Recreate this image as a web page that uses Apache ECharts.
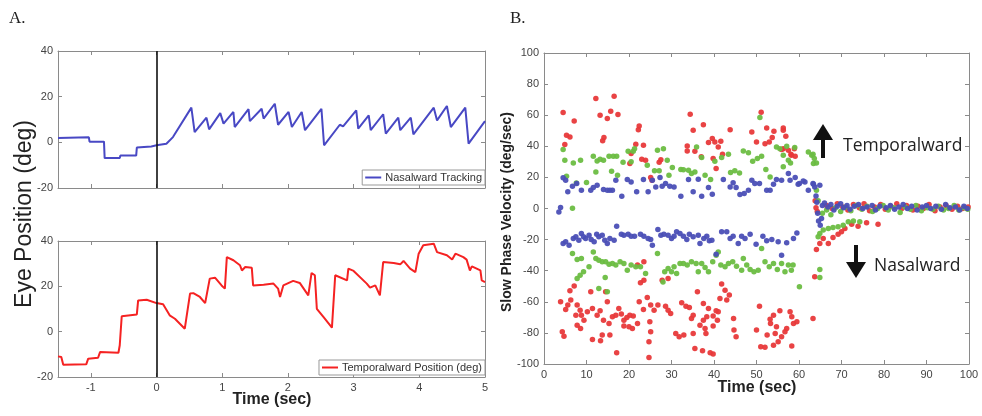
<!DOCTYPE html>
<html><head><meta charset="utf-8">
<script src="https://cdn.jsdelivr.net/npm/echarts@6/dist/echarts.min.js"></script>
<style>html,body{margin:0;padding:0;background:#fff}#c{width:982px;height:416px}</style>
</head><body><div id="c"></div>
<script>
// ---------- Panel A data (time sec, position deg) ----------
const nasalTrack = [[-1.5,1.9],[-1.03,2.2],[-1.02,0.3],[-0.8,0.3],[-0.79,-6.9],[-0.56,-6.9],[-0.55,-5.8],[-0.31,-5.8],[-0.3,-2.3],[-0.08,-1.8],[0,-1.3],[0.15,-0.6],[0.25,2.3],[0.53,15.2],[0.58,4.5],[0.76,10.8],[0.8,5.7],[0.97,12.8],[1.02,8.2],[1.17,13.3],[1.19,6.7],[1.4,14.5],[1.42,9.3],[1.6,14.7],[1.63,10.4],[1.8,16.9],[1.85,7.7],[2.01,13.3],[2.06,6.7],[2.21,13.3],[2.26,5.3],[2.51,14.7],[2.55,-1.3],[2.79,7.7],[2.84,7.0],[3.04,14],[3.07,6],[3.23,11.8],[3.26,5.3],[3.45,12.3],[3.49,3.8],[3.68,10.8],[3.71,5.3],[3.87,10.8],[3.91,3.5],[4.22,15.2],[4.27,9.6],[4.42,15.9],[4.48,6.7],[4.7,15.2],[4.75,-0.6],[5,9.3]];
const temporalPos = [[-1.5,-10.9],[-1.45,-11.2],[-1.42,-14.6],[-1.07,-14.4],[-1.04,-11.9],[-0.89,-11.5],[-0.86,-9],[-0.58,-9.3],[-0.56,-6],[-0.53,6.8],[-0.3,7.6],[-0.28,13.8],[-0.15,14.1],[0,12.6],[0.1,12.1],[0.2,7.2],[0.28,5.7],[0.43,1.3],[0.51,16.8],[0.56,17],[0.66,15.3],[0.74,12.6],[0.81,23.4],[0.89,23.8],[0.99,20.4],[1.04,19],[1.07,32.9],[1.17,31.5],[1.27,29.3],[1.3,27],[1.35,28.5],[1.45,28.2],[1.47,20.4],[1.63,20.7],[1.78,21.2],[1.85,19],[1.88,15.3],[1.93,20.4],[2.08,22.4],[2.18,21.5],[2.31,16],[2.36,25.9],[2.41,24.9],[2.44,10.1],[2.54,6.5],[2.67,1.8],[2.72,24.9],[2.9,22.6],[2.92,27.8],[3.0,26.8],[3.2,21.2],[3.25,19.4],[3.33,20.4],[3.4,16],[3.45,30.7],[3.61,30.3],[3.71,29.7],[3.76,31.2],[3.86,27.8],[3.94,26.3],[3.99,34.4],[4.06,38.1],[4.22,38.8],[4.27,35.1],[4.42,33.7],[4.5,31.8],[4.55,34.4],[4.67,32.9],[4.72,31.8],[4.77,27],[4.8,28.8],[4.93,27],[4.95,22.6],[5.0,21.9]];
const panelATicksX = [-1,0,1,2,3,4,5];

// ---------- Panel B data (time sec, slow phase velocity deg/sec) ----------
const redUp = [[4.5,61.7],[4.9,41.1],[5.3,47.1],[6.1,46],[7.1,56.3],[12.2,70.7],[13.2,60],[13.8,43.5],[14.1,45.6],[14.9,57.8],[15.7,62.5],[16.5,72.2],[17.4,60.4],[20.2,28.9],[20.5,35.3],[21.6,41.3],[22.2,50.7],[22.4,53.1],[23,31.7],[23.4,40.7],[23.9,31],[25.1,19.9],[25.4,18.2],[27.1,29.8],[27.5,31.4],[33.7,40.2],[33.7,37],[34.4,60.6],[35.1,50.3],[35.5,36.8],[37,33.2],[37.5,53.9],[38.7,42.4],[39.6,45],[39.8,32.1],[40.2,42.8],[40.5,25.7],[41,39.6],[41.6,43.2],[42,34.9],[43.8,50.7],[48.9,49.2],[50,42.8],[51.1,61.9],[52,41.7],[52.4,51.8],[53,42.8],[53.7,45.6],[54.1,49.7],[55.9,37.9],[56.3,51.8],[56.3,50.3],[56.9,46.5],[57.5,37.5],[58.1,34.9],[58.9,38.5],[59.1,33.6],[56.3,38.5],[58.2,34.3]];
const greenUp = [[4.5,37.9],[4.9,31],[5.3,20.8],[6.7,0.1],[6.9,29.3],[7.6,16.4],[8.6,31],[10,16.7],[11.6,33.6],[12.2,23.5],[12.5,30.6],[13.2,31.7],[14,31],[15.3,33.6],[15.9,24],[16.3,33.6],[17.1,33.6],[17.3,21.4],[18.6,29.7],[19.8,36.8],[20.5,30],[21,36.8],[21.3,38.5],[24.3,27.8],[26,24.2],[26.7,37.5],[27.1,24.2],[28.1,38.5],[29,31],[29.4,21.4],[30.2,26.3],[32.2,25.1],[32.8,25],[34,24.6],[34.7,22.5],[35.5,23.5],[35.9,39.6],[37.1,32.8],[37.9,21.4],[39.2,18.6],[40.2,30.4],[41.8,32.8],[43.4,34.9],[43.9,23.1],[44.9,24.2],[46,22.9],[46.9,37],[48.1,35.8],[49.1,30.4],[50.2,32.1],[50.8,58.5],[51.2,33.6],[52.2,25.1],[53.2,20.3],[54.7,39.6],[55.5,38.5],[56.3,34.2],[57.1,40],[57.5,31],[58,29.3],[59,39.2],[56.3,26.8],[62.2,36.4],[63,34.2],[63.3,34.9],[63.6,32.1],[63.4,28.9],[64.1,29.3],[64.1,11.8]];
const blueUp = [[3.5,-2.2],[3.9,0.6],[4.5,19.7],[5.1,18.2],[5.6,10.7],[6.7,14.3],[7.7,16],[8.8,11.8],[11,11.8],[11.6,13.5],[12.5,15],[14,12.2],[14.9,11.8],[15.5,11.8],[16.1,11.8],[16.9,18.2],[18.3,7.9],[19.6,18.6],[20.5,17.1],[21.8,10.7],[23.4,18.6],[24.5,10.7],[25.5,18.2],[26.3,13.9],[27.3,19.9],[27.8,14.3],[28.6,16],[29.6,14.3],[30.6,13.9],[32.2,7.9],[34,18.6],[35.1,10.7],[36.3,18.8],[37.1,7.9],[38.7,13.5],[39.6,9.2],[42.2,18.6],[43.8,13.9],[44.5,16.5],[45.2,13.5],[46.1,9],[47.1,9.6],[48.1,11.8],[48.9,18.2],[49.6,16],[50.7,16],[52.4,11.8],[53.2,11.8],[54,15.6],[54.7,18.6],[55.9,18.2],[57.5,22.5],[57.9,18.2],[59.1,19.9],[59.8,15.6],[60.1,16],[61,17.7],[61.4,17.1],[62.2,11.8],[63.3,16],[63.4,15.6],[63.7,13.9],[64.9,15]];
const redAfter = [[63.8,5],[64,0.5],[64.3,-2],[64.1,-26.4],[64.9,-22.5],[65.7,-19.3],[66.9,-22.5],[68,-18.7],[69.2,-16.5],[70,-15],[70.8,-12.9],[72.4,-10.1],[73.9,-11.4],[75.9,-9.2],[78.6,-10.1],[63.7,-43.9],[63.3,-70.7],[66.5,2],[67.8,0],[69,3],[70.3,1],[71.5,-1],[72.8,2.5],[74.2,0.5],[75.3,3],[76.6,-1.5],[77.8,1],[79.2,2.5],[80.3,-0.5],[81.6,1.5],[83,3],[84.2,0],[85.3,2],[86.8,-1],[88,1.5],[89.3,0],[90.6,2.5],[92,-1.5],[93.2,1],[94.6,2],[96,-0.5],[97.3,1.5],[98.5,0],[99.8,1]];
const greenAfter = [[64.5,5],[64.9,-16.1],[64.5,-18.2],[65.7,-13.9],[66.9,-12.9],[68,-12.2],[69.2,-11.8],[70.4,-10.7],[71.6,-8.6],[72.8,-8],[74.3,-8.6],[64.9,-39.2],[64.9,-44.4],[65.5,-3],[66.5,-1],[67.5,-4],[68.6,0.5],[69.8,-2],[71,1],[72.2,-1.5],[73.5,2],[74.8,-0.5],[76,1.5],[77.3,-2],[78.5,0],[79.8,2],[81,-1],[82.3,0.5],[83.8,-2.5],[85,1],[86.2,-0.5],[87.5,2],[88.8,-1.5],[90.2,0.5],[91.5,-0.5],[92.8,1.5],[94,-1],[95.2,0],[96.5,2],[97.6,-1],[98.8,0.5],[99.7,-0.5]];
const blueAfter = [[64,8],[64.2,4],[64.4,-3],[64.6,-8],[65,-10.7],[65.3,-6.4],[65.5,2],[66,3.5],[66.8,1],[67.5,2.5],[68.2,-1],[69,1.5],[69.8,3],[70.5,0.5],[71.3,2],[72,-0.5],[73,1.5],[74,2.5],[75,0],[76,1],[77.2,2],[78,-1],[79,1.5],[80.5,0.5],[81.5,2],[82.5,-0.5],[83.5,1],[84.5,2.5],[85.5,0],[86.5,1.5],[87.8,-1],[89,1],[90,2],[91,0],[92.2,1.5],[93.5,-0.5],[94.5,2.5],[95.5,0.5],[96.8,1],[97.8,-1],[98.8,1.5],[99.6,0]];
const blueDown = [[4.5,-22.5],[5.1,-21.4],[5.9,-23.6],[6.9,-19.3],[7.5,-18.2],[8.2,-20.4],[8.8,-16.1],[9.3,-18.2],[9.8,-19.3],[10.6,-17.2],[11.1,-19.9],[11.8,-21.4],[12.4,-16.5],[12.9,-18.2],[13.7,-17.2],[14.3,-20.4],[14.9,-22.5],[15.5,-19.3],[16.5,-20.4],[17.1,-11.4],[18.2,-16.5],[18.8,-17.2],[19.8,-16.5],[20.5,-17.8],[21.3,-17.8],[22.7,-16.5],[23.5,-17.8],[24.5,-19.3],[25.1,-19.9],[25.5,-23.6],[26.8,-13.5],[27.5,-17.2],[28.2,-16.5],[29.2,-17.2],[30,-19.3],[30.6,-17.8],[31.2,-15],[32,-16.1],[32.8,-17.8],[33.6,-19.9],[34.2,-16.5],[35.1,-18.2],[36.3,-17.2],[36.7,-22.5],[37.6,-19.3],[38.3,-17.8],[38.9,-20.8],[39.5,-20.4],[40.5,-29.4],[41.8,-15],[43,-15],[43.8,-19.3],[44.5,-17.8],[45.7,-22.5],[46.5,-17.8],[47.3,-19.3],[48.5,-16.5],[49.9,-23],[51.5,-17.8],[52.4,-20.8],[53.6,-19.9],[55.1,-21.4],[55.9,-30],[57.1,-22.1],[58.7,-19.3],[59.5,-15.7]];
const greenDown = [[6.7,-28.9],[7.8,-32.8],[8.8,-32.2],[11.6,-27.9],[12.2,-32.2],[12.9,-33.2],[13.7,-34.3],[14.5,-34.3],[15.3,-35.8],[16.1,-35.4],[16.9,-36.4],[17.9,-34.3],[18.8,-35.4],[19.6,-39.7],[20.5,-36.4],[21.6,-37.5],[22.7,-37.5],[23.9,-41.8],[26.7,-28.9],[28,-47.2],[28.4,-40.7],[29.2,-38.6],[30,-40.7],[30.6,-37.5],[31.2,-41.8],[32,-35.4],[7.8,-45],[8.5,-42.9],[9.3,-40.7],[10.6,-37.5],[12.9,-51.4],[14.4,-44.4],[14.9,-53.6],[32.8,-35.4],[33.7,-36.4],[34.7,-34.3],[35.8,-35.4],[36.3,-40.7],[37.1,-35.4],[37.9,-37.9],[38.7,-40.7],[39.7,-34.3],[41,-27.9],[40.5,-30],[41.6,-36.4],[42.6,-37.5],[43.4,-35.4],[44.4,-34.3],[45.3,-37.1],[46.5,-39.7],[46.9,-32.2],[47.7,-36.4],[48.5,-39.2],[49.4,-40.7],[50.4,-39.7],[51.2,-25.7],[52,-34.3],[53,-37.5],[54,-35.4],[54.9,-39.2],[55.9,-35.4],[56.7,-40.7],[57.5,-36.4],[58.2,-39.7],[58.6,-36.4],[60.1,-50.4]];
const redDown = [[23.5,-34.3],[22.7,-47.8],[22,-36.4],[3.9,-60],[5.1,-65],[5.6,-62.1],[6.3,-58.9],[7.1,-49.9],[6.1,-52.9],[7.8,-62.1],[8.5,-65.4],[7.5,-68.6],[8.8,-68.6],[9.4,-71.8],[10.2,-66.4],[11,-53.6],[11.4,-64.3],[12.5,-68.6],[13.2,-65.8],[14,-71.8],[14.5,-53.6],[14.9,-60],[15.3,-73.9],[16.1,-69.6],[16.9,-68.6],[17.6,-64.3],[18.2,-67.9],[18.8,-71.8],[19.5,-70.1],[20.2,-68.6],[21,-69.2],[22,-73.9],[22.4,-60],[23.4,-64.9],[24.3,-57.2],[25.1,-62.1],[25.9,-65.4],[24.9,-72.9],[25.1,-79.3],[24.7,-85.7],[24.7,-95.8],[4.3,-79.3],[4.7,-82.1],[7.8,-75],[8.6,-77.1],[11.4,-84.2],[13.7,-81.4],[15.5,-81.4],[17.1,-92.8],[13.3,-85.1],[26.8,-62.1],[28.6,-62.8],[29.2,-65.4],[29.8,-67.5],[31,-80.4],[31.8,-82.5],[27.8,-46.1],[29.2,-45],[23.5,-46.1],[18.8,-75.6],[20,-76.1],[20.8,-77.1],[41.8,-48.6],[42.6,-52.5],[43.6,-55.7],[43,-58.9],[41.4,-57.9],[36.1,-53.6],[32.4,-60.6],[33.4,-62.8],[34.2,-63.6],[35.1,-68.6],[34.7,-70.7],[32.9,-81.4],[35.1,-80.4],[36.7,-75],[37.5,-71.8],[38.3,-69.6],[38.7,-64.3],[39.8,-69.2],[40.5,-65.8],[41,-66.4],[40.8,-71.8],[39.8,-75.6],[38.1,-80.4],[37.9,-77.1],[35.5,-90],[37.3,-91.5],[39.1,-92.8],[39.8,-93.6],[44.6,-70.7],[44.7,-78.2],[45.2,-82.5],[50,-78.2],[50.7,-62.8],[52.5,-81.4],[53.2,-71.3],[54,-68.6],[55.5,-65.8],[53.3,-73.9],[54.7,-76.1],[54.4,-80.4],[55.1,-85.7],[55.9,-82.5],[56.7,-79.3],[57.1,-77.1],[57.9,-66.4],[58.3,-69.6],[58.7,-73.9],[59.5,-72.9],[51,-88.9],[52,-89.3],[58.3,-88.5],[54,-87.9],[37.5,-61.1]];

const FONT = 'Liberation Sans';
const chart = echarts.init(document.getElementById('c'), null, {renderer:'canvas'});

function boxAxes(gridIndex, min, max, showLabels, intervalOpt, pos) {
  const a = {
    type:'value', gridIndex, min, max, position:pos,
    axisLine:{show:true, onZero:false, lineStyle:{color:'#8a8a8a', width:1}},
    axisTick:{show:true, inside:true, length:4, lineStyle:{color:'#8a8a8a'}},
    splitLine:{show:false},
    axisLabel:{show:showLabels, color:'#444', fontFamily:FONT, fontSize:11, margin:5}
  };
  Object.assign(a, intervalOpt);
  return a;
}

const xA = {minInterval:1, maxInterval:1};
const gridA1 = {left:58, top:51, width:427, height:137};
const gridA2 = {left:58, top:241, width:427, height:136};
const gridB = {left:544, top:53, width:425, height:311};

const xAxes = [
  boxAxes(0,-1.5,5,false,xA,'bottom'),
  boxAxes(0,-1.5,5,false,xA,'top'),
  boxAxes(1,-1.5,5,true,xA,'bottom'),
  boxAxes(1,-1.5,5,false,xA,'top'),
  boxAxes(2,0,100,true,{interval:10},'bottom'),
  boxAxes(2,0,100,false,{interval:10},'top')
];
xAxes[2].axisLabel.formatter = v => panelATicksX.includes(v) ? String(v) : '';
const yAxes = [
  boxAxes(0,-20,40,true,{interval:20},'left'),
  boxAxes(0,-20,40,false,{interval:20},'right'),
  boxAxes(1,-20,40,true,{interval:20},'left'),
  boxAxes(1,-20,40,false,{interval:20},'right'),
  boxAxes(2,-100,100,true,{interval:20},'left'),
  boxAxes(2,-100,100,false,{interval:20},'right')
];

const vline = {silent:true, symbol:['none','none'], label:{show:false},
  lineStyle:{color:'#111', width:1.6, type:'solid'}, data:[{xAxis:0}]};

const dot = (name, color, data) => ({
  name, type:'scatter', xAxisIndex:4, yAxisIndex:4, data,
  symbolSize:5.5, itemStyle:{color, opacity:0.95}, silent:true, animation:false
});

const legendBase = {orient:'horizontal', icon:'rect', itemWidth:16, itemHeight:2, itemGap:4,
  backgroundColor:'#fff', borderColor:'#999', borderWidth:1, borderRadius:0, padding:[2,3,2,3],
  textStyle:{fontFamily:FONT, fontSize:11, color:'#333', padding:[0,0,0,-1]}};

chart.setOption({
  animation:false,
  grid:[gridA1, gridA2, gridB],
  xAxis:xAxes, yAxis:yAxes,
  legend:[
    Object.assign({data:['Nasalward Tracking'], right:497, top:170}, legendBase),
    Object.assign({data:['Temporalward Position (deg)'], right:497, top:360}, legendBase)
  ],
  series:[
    {name:'Nasalward Tracking', type:'line', xAxisIndex:0, yAxisIndex:0, data:nasalTrack,
     showSymbol:false, symbol:'none', lineStyle:{color:'#4848c4', width:2}, itemStyle:{color:'#4848c4'},
     markLine:vline},
    {name:'Temporalward Position (deg)', type:'line', xAxisIndex:2, yAxisIndex:2, data:temporalPos,
     showSymbol:false, symbol:'none', lineStyle:{color:'#f52222', width:2}, itemStyle:{color:'#f52222'},
     markLine:vline},
    dot('red', '#e8393a', redUp.concat(redDown, redAfter)),
    dot('green', '#6cbd42', greenUp.concat(greenDown, greenAfter)),
    dot('blue', '#4b4fb6', blueUp.concat(blueDown, blueAfter))
  ],
  graphic:[
    {type:'text', left:9, top:10, style:{text:'A.', font:'17px "Liberation Serif"', fill:'#222'}},
    {type:'text', left:510, top:10, style:{text:'B.', font:'17px "Liberation Serif"', fill:'#222'}},
    {type:'text', x:25, y:214, rotation:Math.PI/2,
     style:{text:'Eye Position (deg)', font:'23px "Liberation Sans"', fill:'#222', align:'center', verticalAlign:'middle'}},
    {type:'text', x:272, y:400,
     style:{text:'Time (sec)', font:'bold 16px "Liberation Sans"', fill:'#222', align:'center', verticalAlign:'middle'}},
    {type:'text', x:757, y:388,
     style:{text:'Time (sec)', font:'bold 16px "Liberation Sans"', fill:'#222', align:'center', verticalAlign:'middle'}},
    {type:'text', x:507, y:212, rotation:Math.PI/2,
     style:{text:'Slow Phase Velocity (deg/sec)', font:'bold 14px "Liberation Sans"', fill:'#222', align:'center', verticalAlign:'middle'}},
    {type:'text', x:843, y:146,
     style:{text:'Temporalward', font:'17.5px "Open Sans"', fill:'#222', align:'left', verticalAlign:'middle'}},
    {type:'text', x:874, y:266,
     style:{text:'Nasalward', font:'17.5px "Open Sans"', fill:'#222', align:'left', verticalAlign:'middle'}},
    {type:'line', shape:{x1:823, y1:158, x2:823, y2:136}, style:{stroke:'#111', lineWidth:4}},
    {type:'polygon', shape:{points:[[813,140],[833,140],[823,124]]}, style:{fill:'#111'}},
    {type:'line', shape:{x1:856, y1:245, x2:856, y2:266}, style:{stroke:'#111', lineWidth:4}},
    {type:'polygon', shape:{points:[[846,262],[866,262],[856,278]]}, style:{fill:'#111'}}
  ]
});
</script></body></html>
